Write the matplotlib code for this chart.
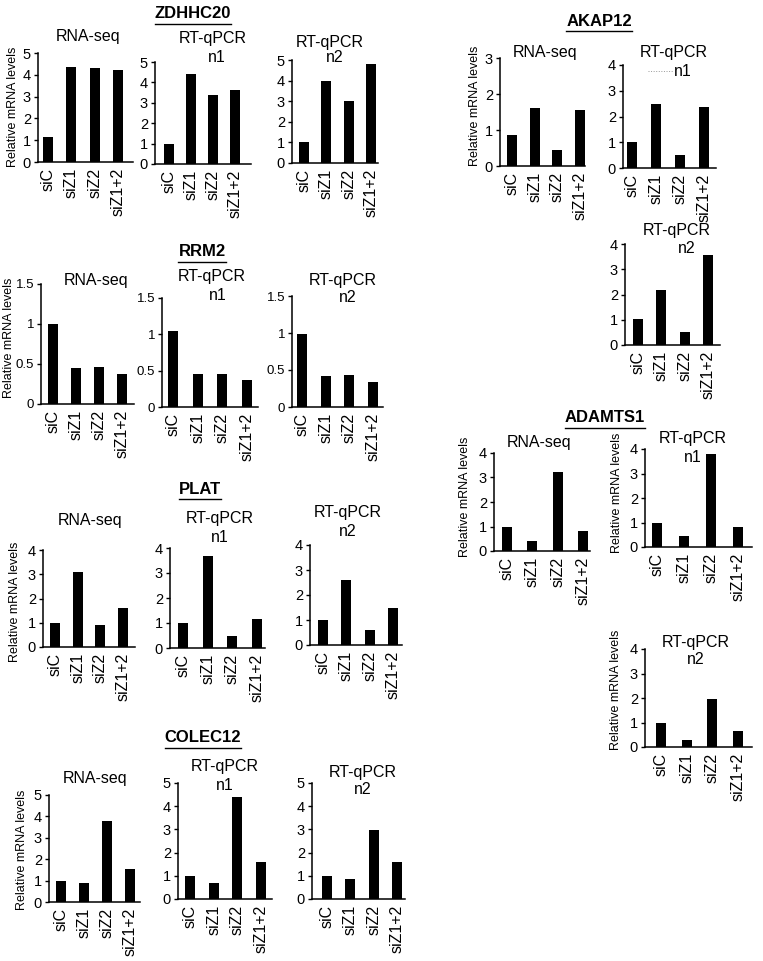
import numpy as np
import matplotlib
matplotlib.use("Agg")
import matplotlib.pyplot as plt
from matplotlib.lines import Line2D

plt.rcParams['font.family'] = ['Liberation Sans', 'DejaVu Sans']

W, H = 763, 961
fig = plt.figure(figsize=(W / 100, H / 100), dpi=100)

samples = ['siC', 'siZ1', 'siZ2', 'siZ1+2']

# data
zdhhc20_rnaseq = [1.15, 4.35, 4.30, 4.22]
zdhhc20_n1 = [1.0, 4.40, 3.38, 3.65]
zdhhc20_n2 = [1.0, 3.97, 3.0, 4.82]

rrm2_rnaseq = [1.0, 0.45, 0.46, 0.37]
rrm2_n1 = [1.05, 0.45, 0.46, 0.37]
rrm2_n2 = [0.98, 0.42, 0.43, 0.34]

plat_rnaseq = [1.0, 3.1, 0.9, 1.6]
plat_n1 = [1.0, 3.7, 0.5, 1.15]
plat_n2 = [1.0, 2.6, 0.6, 1.5]

colec12_rnaseq = [1.0, 0.88, 3.8, 1.55]
colec12_n1 = [1.0, 0.7, 4.4, 1.6]
colec12_n2 = [1.0, 0.88, 2.97, 1.6]

akap12_rnaseq = [0.85, 1.6, 0.45, 1.55]
akap12_n1 = [1.02, 2.48, 0.5, 2.35]
akap12_n2 = [1.02, 2.18, 0.52, 3.57]

adamts1_rnaseq = [1.0, 0.42, 3.22, 0.8]
adamts1_n1 = [0.97, 0.45, 3.78, 0.8]
adamts1_n2 = [1.0, 0.28, 1.95, 0.65]


def fx(x):
    return x / W


def fy(y):
    return 1 - y / H


def panel(values, x0, x1, c0, s, yb, yt, ymax, step):
    # x0/x1: axis ends (px), c0: first bar centre, s: bar spacing, yb/yt: y of 0 and ymax
    ax = fig.add_axes([fx(x0), fy(yb), (x1 - x0) / W, (yb - yt) / H])
    pos = np.arange(len(samples))
    ax.bar(pos, values, width=10 / s, color='black')
    ax.set_xlim((x0 - c0) / s, (x1 - c0) / s)
    ax.set_ylim(0, ymax)
    ax.set_yticks(np.arange(0, ymax + step / 2, step))
    ax.yaxis.set_major_formatter(matplotlib.ticker.FormatStrFormatter('%g'))
    ax.set_xticks(pos)
    ax.set_xticklabels(samples, rotation=90, fontsize=11.5)
    ax.tick_params(axis='x', length=0, pad=4)
    ax.tick_params(axis='y', length=3, width=1, pad=2,
                   labelsize=9.5 if step < 1 else 10.5)
    for side in ['top', 'right']:
        ax.spines[side].set_visible(False)
    for side in ['left', 'bottom']:
        ax.spines[side].set_linewidth(1.1)
    ax.patch.set_alpha(0)
    return ax


def label(x, y, txt, size=11.5):
    fig.text(fx(x), fy(y), txt, ha='center', va='center', fontsize=size)


def ylab(x, y):
    fig.text(fx(x), fy(y), 'Relative mRNA levels', rotation=90,
             ha='center', va='center', fontsize=9)


def gene(x, y, txt):
    t = fig.text(fx(x), fy(y), txt, ha='center', va='center',
                 fontsize=12, fontweight='bold')
    bb = t.get_window_extent(renderer=fig.canvas.get_renderer())
    yline = fy(y + 9.5)
    fig.add_artist(Line2D([bb.x0 / W, bb.x1 / W], [yline, yline],
                          transform=fig.transFigure, color='black', lw=1))


# ZDHHC20
gene(193, 14, 'ZDHHC20')
panel(zdhhc20_rnaseq, 38, 133, 48, 23.3, 162, 53, 5, 1)
panel(zdhhc20_n1, 155, 251, 169, 22.0, 164, 62, 5, 1)
panel(zdhhc20_n2, 292, 378, 304, 22.3, 163, 60, 5, 1)
label(88, 37, 'RNA-seq')
label(213, 38, 'RT-qPCR')
label(217, 57, 'n1')
label(330, 42, 'RT-qPCR')
label(335, 58, 'n2')
ylab(13, 107)

# RRM2
gene(202, 252, 'RRM2')
panel(rrm2_rnaseq, 41, 134, 53, 23.0, 404, 284, 1.5, 0.5)
panel(rrm2_n1, 162, 258, 173, 24.7, 407, 298, 1.5, 0.5)
panel(rrm2_n2, 292, 383, 302, 23.7, 407, 296, 1.5, 0.5)
label(96, 280, 'RNA-seq')
label(212, 277, 'RT-qPCR')
label(218, 296, 'n1')
label(343, 280, 'RT-qPCR')
label(348, 298, 'n2')
ylab(9, 338)

# PLAT
gene(200, 489, 'PLAT')
panel(plat_rnaseq, 43, 135, 55, 22.7, 647, 550, 4, 1)
panel(plat_n1, 170, 265, 183, 24.7, 648, 548, 4, 1)
panel(plat_n2, 310, 402, 323, 23.3, 645, 545, 4, 1)
label(90, 520, 'RNA-seq')
label(220, 518, 'RT-qPCR')
label(220, 537, 'n1')
label(348, 513, 'RT-qPCR')
label(348, 532, 'n2')
ylab(15, 602)

# COLEC12
gene(203, 738, 'COLEC12')
panel(colec12_rnaseq, 49, 140, 61, 23.0, 902, 795, 5, 1)
panel(colec12_n1, 178, 272, 190, 23.7, 899, 783, 5, 1)
panel(colec12_n2, 312, 405, 327, 23.3, 899, 783, 5, 1)
label(95, 778, 'RNA-seq')
label(225, 767, 'RT-qPCR')
label(225, 785, 'n1')
label(363, 772, 'RT-qPCR')
label(363, 790, 'n2')
ylab(22, 850)

# AKAP12
gene(599, 21, 'AKAP12')
panel(akap12_rnaseq, 500, 585, 512, 22.7, 166, 58, 3, 1)
panel(akap12_n1, 623, 716, 632, 24.0, 168, 65, 4, 1)
panel(akap12_n2, 625, 720, 638, 23.3, 345, 244, 4, 1)
label(545, 53, 'RNA-seq')
label(674, 53, 'RT-qPCR')
label(683, 71, 'n1')
fig.add_artist(Line2D([fx(648), fx(673)], [fy(71), fy(71)], transform=fig.transFigure,
                      color='#999999', lw=0.7, ls=':'))
label(677, 230, 'RT-qPCR')
label(687, 249, 'n2')
ylab(475, 106)

# ADAMTS1
gene(605, 418, 'ADAMTS1')
panel(adamts1_rnaseq, 494, 590, 507, 25.3, 551, 453, 4, 1)
panel(adamts1_n1, 645, 752, 657, 27.0, 547, 449, 4, 1)
panel(adamts1_n2, 645, 752, 661, 25.7, 747, 649, 4, 1)
label(539, 443, 'RNA-seq')
label(693, 438, 'RT-qPCR')
label(693, 458, 'n1')
label(696, 642, 'RT-qPCR')
label(696, 660, 'n2')
ylab(465, 497)
ylab(617, 493)
ylab(616, 690)

fig.savefig('out.png', dpi=100, facecolor='white')
